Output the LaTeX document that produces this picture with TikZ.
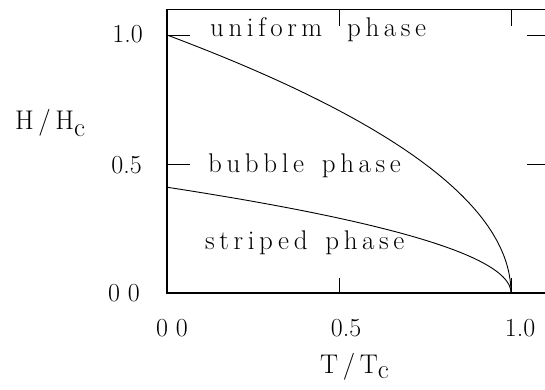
\documentclass[tikz,border=0pt]{standalone}
\usepackage{fontspec}
\newfontfamily\spacedfont{Latin Modern Roman}[LetterSpace=17,WordSpace=1.4]

\begin{document}
\begin{tikzpicture}[x=344pt,y=258pt,
    axisline/.style={line width=1.2pt},
    tickline/.style={line width=0.9pt},
    curve/.style={line width=0.9pt},
    phaselabel/.style={anchor=base west,inner sep=0pt,font=\fontsize{27}{32}\selectfont\spacedfont},
    ticklabel/.style={inner sep=0pt,font=\fontsize{26}{30}\selectfont}]
  \useasboundingbox (-167pt,-96pt) rectangle (378pt,293pt);
  \coordinate (hc) at (0,1);
  \coordinate (hs) at (0,0.41);
  \coordinate (crit) at (1,0);
  % frame, right side is cut off
  \draw[axisline] (1.1,1.1) -- (0,1.1) -- (0,0) -- (1.1,0);
  \foreach \h in {0.5,1.0} {
    \draw[tickline] (0,\h) -- ++(23pt,0);
    \draw[tickline] (1.1,\h) -- ++(-18pt,0);
  }
  \foreach \t in {0.5,1.0} {
    \draw[tickline] (\t,1.1) -- ++(0,-17pt);
    \draw[tickline] (\t,0) -- ++(0,15pt);
  }
  % phase boundaries
  \draw[curve] plot[domain=1:0,samples=60,smooth] ({1-\x*\x},{\x});
  \draw[curve] plot[domain=1:0,samples=60,smooth] ({1-\x*\x},{0.41*\x});
  \node[phaselabel] (uniform) at (43pt,256pt) {uniform\hspace{7pt} phase};
  \node[phaselabel] (bubble) at (41pt,121pt) {bubble phase};
  \node[phaselabel] (striped) at (38pt,44pt) {striped phase};
  \node[ticklabel,anchor=base east] (y10) at (-24pt,250pt) {1.0};
  \node[ticklabel,anchor=base east] (y05) at (-25pt,120pt) {0.5};
  \node[ticklabel,anchor=base east] (y00) at (-27pt,-8pt) {0 0};
  \node[ticklabel,anchor=base] (x00) at (5pt,-43pt) {0 0};
  \node[ticklabel,anchor=base] (x05) at (179pt,-43pt) {0.5};
  \node[ticklabel,anchor=base] (x10) at (353pt,-43pt) {1.0};
  \node[phaselabel] (ylabel) at (-152pt,164pt) {H/H\raisebox{-7pt}{c}};
  \node[phaselabel] (xlabel) at (153pt,-80pt) {T/T\raisebox{-5pt}{c}};
\end{tikzpicture}
\end{document}
